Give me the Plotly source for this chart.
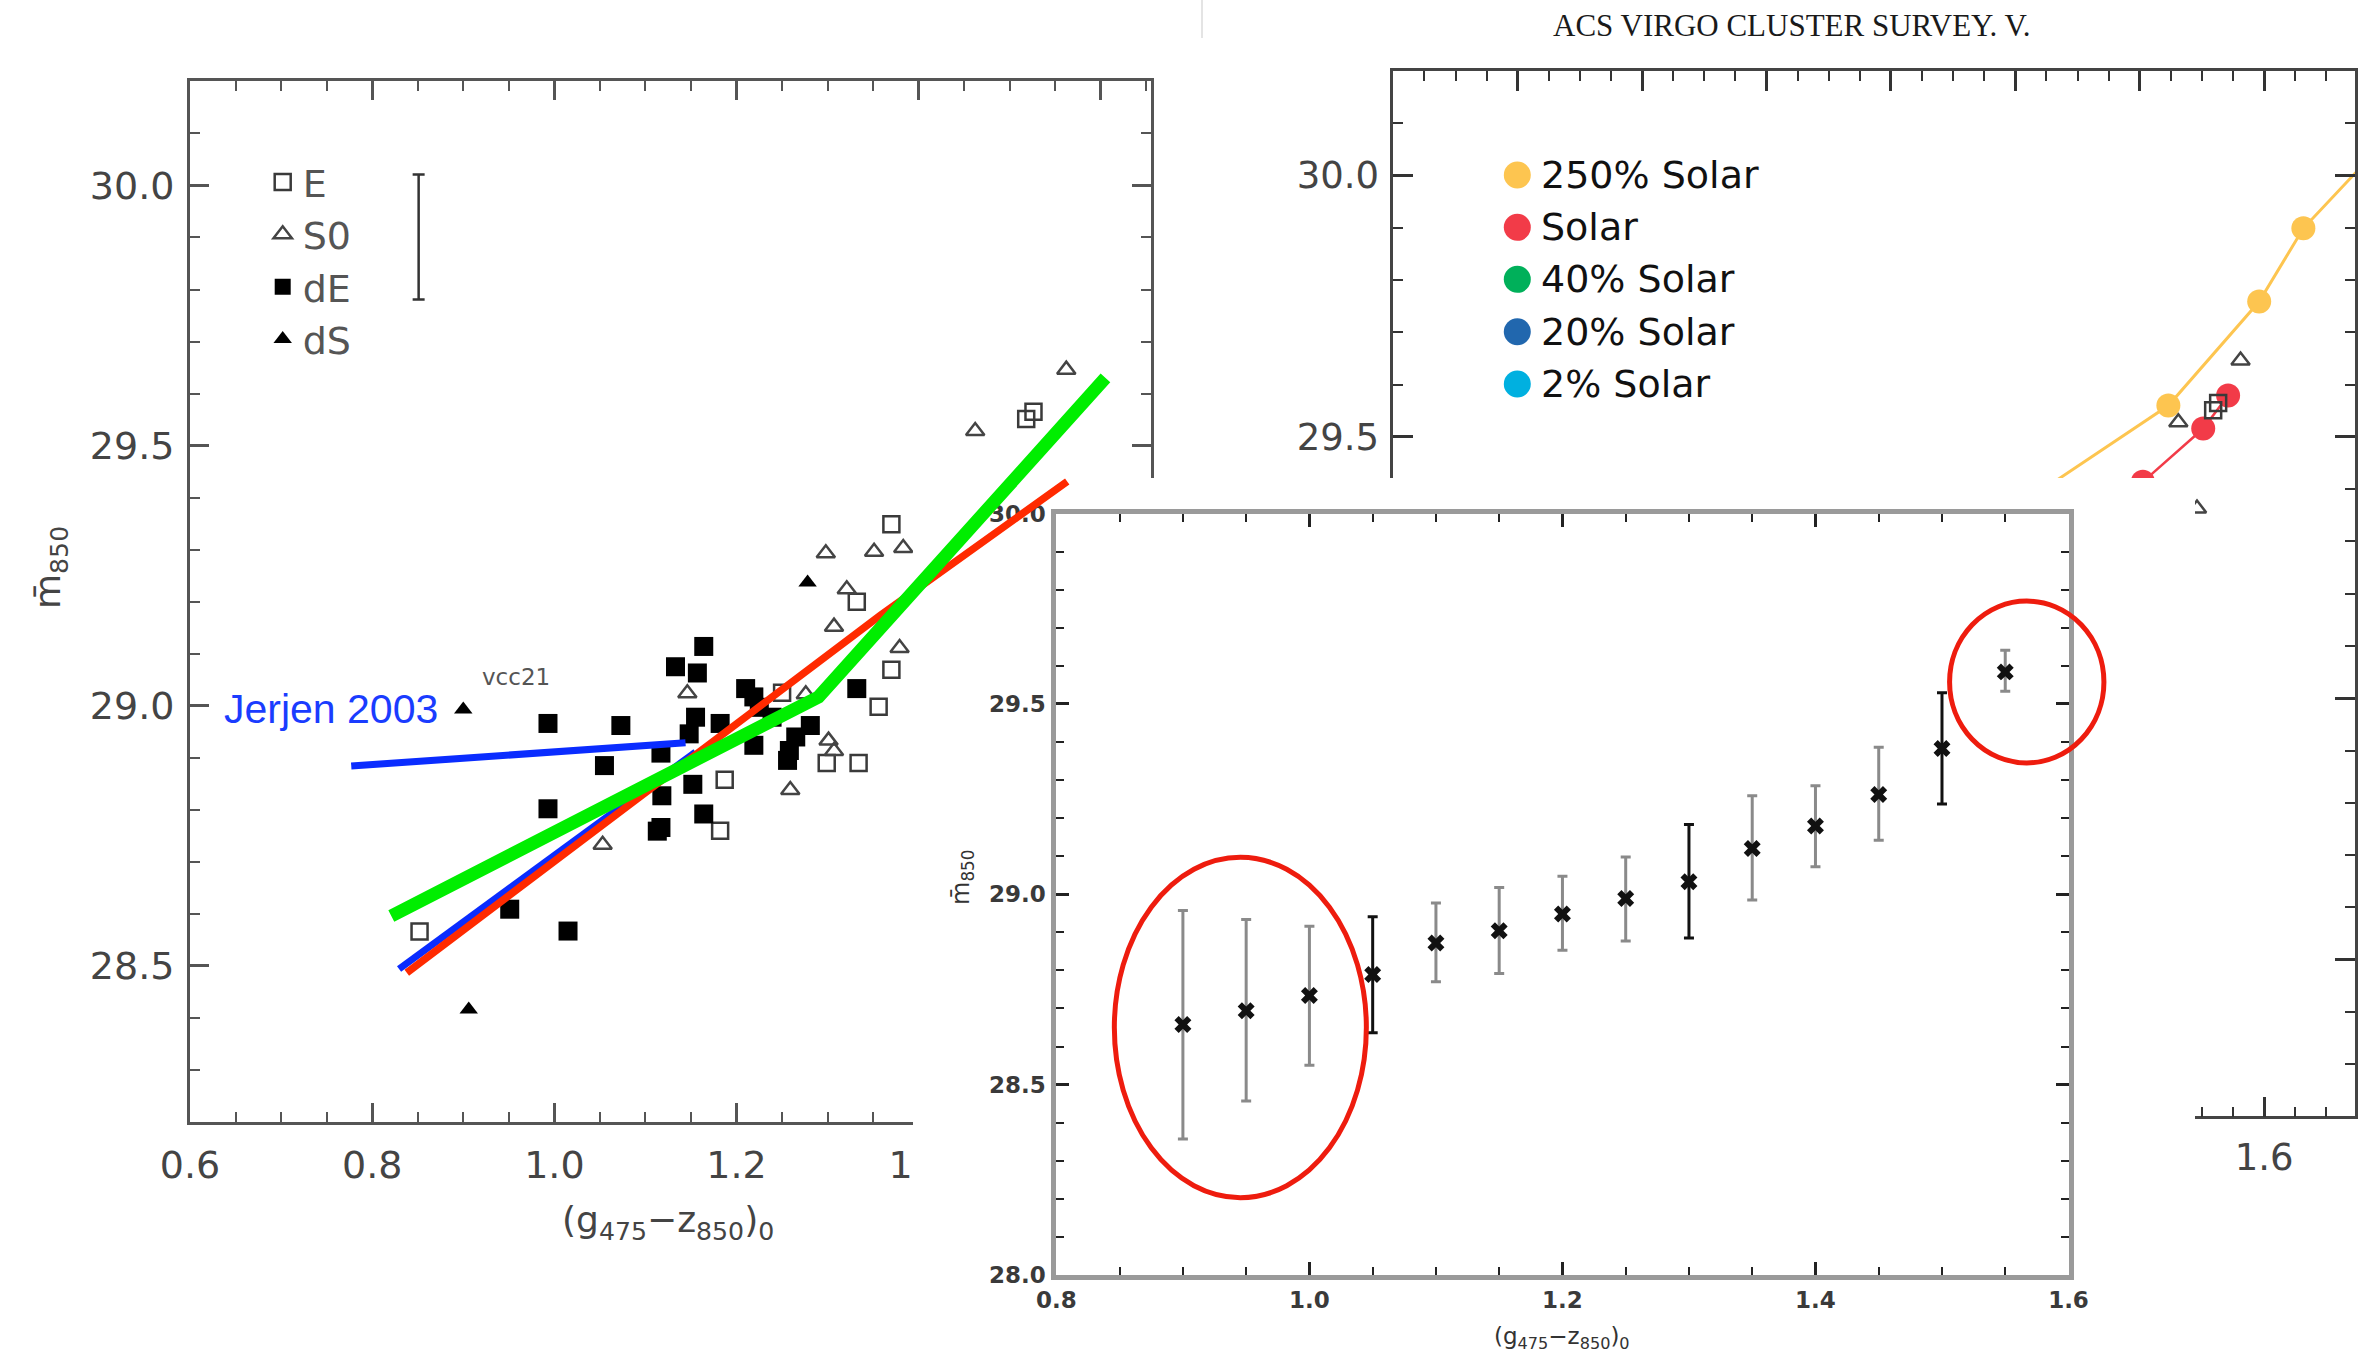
import plotly.graph_objects as go

W, H = 2358, 1360

# ---------------- data: galaxy sample (panels 1 and 2) ----------------
E_x = [0.852, 1.187, 1.182, 1.356, 1.334, 1.299, 1.332, 1.370, 1.370, 1.518, 1.526, 1.250]
E_y = [28.566, 28.858, 28.760, 28.998, 28.890, 28.890, 29.200, 29.349, 29.069, 29.551, 29.565, 29.025]

S0_x = [1.053, 1.146, 1.259, 1.301, 1.307, 1.298, 1.351, 1.383, 1.321, 1.307, 1.379,
        1.462, 1.562, 1.276, 1.492]
S0_y = [28.733, 29.024, 28.838, 28.933, 28.913, 29.293, 29.296, 29.303, 29.224, 29.152, 29.111,
        29.528, 29.646, 29.022, 29.363]

dE_x = [0.993, 1.073, 1.055, 0.993, 0.951, 1.015, 1.133, 1.164, 1.157, 1.155, 1.148, 1.182,
        1.117, 1.152, 1.118, 1.117, 1.113, 1.164, 1.210, 1.219, 1.225, 1.281, 1.265, 1.256,
        1.258, 1.332, 1.219, 1.239]
dE_y = [28.966, 28.962, 28.885, 28.802, 28.609, 28.567, 29.075, 29.114, 29.063, 28.978, 28.946, 28.966,
        28.909, 28.849, 28.827, 28.766, 28.759, 28.792, 29.033, 28.924, 28.997, 28.962, 28.940, 28.895,
        28.914, 29.033, 29.017, 28.978]

dS_x = [0.900, 0.906, 1.278]
dS_y = [28.993, 28.416, 29.237]

# typical error bar shown in panel 1 legend area
errbar_x = [0.851]
errbar_y = [29.901]
errbar_e = [0.120]

# overlay fit lines drawn on panel 1
green_x = [0.821, 1.290, 1.605]
green_y = [28.596, 29.017, 29.630]
red_x = [0.838, 1.358, 1.563]
red_y = [28.487, 29.174, 29.431]
blue1_x = [0.777, 1.144]
blue1_y = [28.884, 28.929]
blue2_x = [0.8295, 1.155]
blue2_y = [28.494, 28.911]

# ---------------- data: model tracks (panel 2) ----------------
Z250_x = [1.22, 1.446, 1.592, 1.663, 1.79]
Z250_y = [29.38, 29.560, 29.759, 29.899, 30.06]
Zsol_x = [1.30, 1.405, 1.502, 1.542]
Zsol_y = [29.32, 29.414, 29.516, 29.579]
legend2_labels = ["250% Solar", "Solar", "40% Solar", "20% Solar", "2% Solar"]
legend2_colors = ["#FDC550", "#F23B48", "#00B05A", "#2167AE", "#00B0E0"]

# ---------------- data: binned relation (panel 3) ----------------
p3_x = [0.90, 0.95, 1.00, 1.05, 1.10, 1.15, 1.20, 1.25, 1.30, 1.35, 1.40, 1.45, 1.50, 1.55]
p3_y = [28.658, 28.694, 28.734, 28.789, 28.872, 28.904, 28.948, 28.989, 29.033, 29.120, 29.179, 29.262, 29.383, 29.584]
p3_hi = [28.957, 28.934, 28.916, 28.941, 28.977, 29.018, 29.047, 29.098, 29.183, 29.259, 29.285, 29.386, 29.529, 29.641]
p3_lo = [28.357, 28.457, 28.551, 28.636, 28.770, 28.792, 28.853, 28.877, 28.885, 28.985, 29.072, 29.142, 29.237, 29.533]
p3_dark = [False, False, False, True, False, False, False, False, True, False, False, False, True, False]

# highlighted regions (panel 3 data units)
ellipses = [
    dict(x0=0.8458, x1=1.045, y0=28.203, y1=29.097),
    dict(x0=1.506, x1=1.628, y0=29.345, y1=29.770),
]

# ---------------- layout geometry (pixels) ----------------
P1 = dict(l=190, r=1151, t=81.4, b=1122)
P2 = dict(l=1393.3, r=2355, t=71, b=1116.4)
CV = dict(l=913, r=2195, t=478, b=1360)
P3 = dict(l=1056.4, r=2068.5, t=513.5, b=1275)

P1_xr = [0.6, 1.655]; P1_yr = [28.2, 30.2]
P2_xr = [0.2, 1.746]; P2_yr = [28.2, 30.2]
P3_xr = [0.8, 1.6];   P3_yr = [28.0, 30.0]


def dom_x(b):
    return [b['l'] / W, b['r'] / W]


def dom_y(b):
    return [1 - b['b'] / H, 1 - b['t'] / H]


def px(x):
    return x / W


def py(y):
    return 1 - y / H


# cover axes use the same scale as panel 3
sx = (P3['r'] - P3['l']) / (P3_xr[1] - P3_xr[0])
sy = (P3['b'] - P3['t']) / (P3_yr[1] - P3_yr[0])
CV_xr = [P3_xr[0] - (P3['l'] - CV['l']) / sx, P3_xr[1] + (CV['r'] - P3['r']) / sx]
CV_yr = [P3_yr[0] - (CV['b'] - P3['b']) / sy, P3_yr[1] + (P3['t'] - CV['t']) / sy]

FONT = "DejaVu Sans"

mk_E = dict(symbol="square-open", size=16, color="#3a3a3a", line=dict(width=2.5, color="#3a3a3a"))
mk_S0 = dict(symbol="triangle-up-open", size=16, color="#444444", line=dict(width=2.5, color="#444444"))
mk_dE = dict(symbol="square", size=19, color="#000000")
mk_dS = dict(symbol="triangle-up", size=16, color="#000000")

fig = go.Figure()

# ---- panel 1 ----
for name, xs, ys, mk in [("E", E_x, E_y, mk_E), ("S0", S0_x, S0_y, mk_S0),
                         ("dE", dE_x, dE_y, mk_dE), ("dS", dS_x, dS_y, mk_dS)]:
    fig.add_trace(go.Scatter(x=xs, y=ys, mode="markers", name=name, marker=mk,
                             xaxis="x", yaxis="y", showlegend=True))
fig.add_trace(go.Scatter(x=errbar_x, y=errbar_y, mode="markers", marker=dict(size=1, color="rgba(0,0,0,0)"),
                         error_y=dict(type="data", array=errbar_e, color="#333333", thickness=2.5, width=6),
                         xaxis="x", yaxis="y", showlegend=False))

# ---- panel 2 ----
fig.add_trace(go.Scatter(x=Z250_x, y=Z250_y, mode="lines+markers", name=legend2_labels[0],
                         line=dict(color=legend2_colors[0], width=3),
                         marker=dict(size=24, color=legend2_colors[0]),
                         xaxis="x2", yaxis="y2", showlegend=False))
fig.add_trace(go.Scatter(x=Zsol_x, y=Zsol_y, mode="lines+markers", name=legend2_labels[1],
                         line=dict(color=legend2_colors[1], width=2.5),
                         marker=dict(size=24, color=legend2_colors[1]),
                         xaxis="x2", yaxis="y2", showlegend=False))
for name, xs, ys, mk in [("E", E_x, E_y, mk_E), ("S0", S0_x, S0_y, mk_S0),
                         ("dE", dE_x, dE_y, mk_dE), ("dS", dS_x, dS_y, mk_dS)]:
    fig.add_trace(go.Scatter(x=xs, y=ys, mode="markers", name=name, marker=mk,
                             xaxis="x2", yaxis="y2", showlegend=False))

# ---- white cover behind panel 3 ----
fig.add_trace(go.Scatter(x=[CV_xr[0], CV_xr[1], CV_xr[1], CV_xr[0], CV_xr[0]],
                         y=[CV_yr[0], CV_yr[0], CV_yr[1], CV_yr[1], CV_yr[0]],
                         mode="lines", fill="toself", fillcolor="#ffffff", line=dict(width=0, color="#ffffff"),
                         xaxis="x3", yaxis="y3", showlegend=False, hoverinfo="skip"))

# ---- panel 3 ----
for dark, col in [(False, "#8a8a8a"), (True, "#111111")]:
    xs = [x for x, d in zip(p3_x, p3_dark) if d == dark]
    ys = [y for y, d in zip(p3_y, p3_dark) if d == dark]
    ep = [h - y for h, y, d in zip(p3_hi, p3_y, p3_dark) if d == dark]
    em = [y - l for l, y, d in zip(p3_lo, p3_y, p3_dark) if d == dark]
    fig.add_trace(go.Scatter(x=xs, y=ys, mode="markers",
                             marker=dict(symbol="x", size=15, color="#111111"),
                             error_y=dict(type="data", symmetric=False, array=ep, arrayminus=em,
                                          color=col, thickness=3, width=5),
                             xaxis="x4", yaxis="y4", showlegend=False))

# ---- overlay lines on panel 1 ----
fig.add_trace(go.Scatter(x=blue1_x, y=blue1_y, mode="lines", line=dict(color="#0a2cff", width=7),
                         xaxis="x5", yaxis="y5", showlegend=False))
fig.add_trace(go.Scatter(x=blue2_x, y=blue2_y, mode="lines", line=dict(color="#0a2cff", width=7),
                         xaxis="x5", yaxis="y5", showlegend=False))
fig.add_trace(go.Scatter(x=red_x, y=red_y, mode="lines", line=dict(color="#ff2a00", width=7.5),
                         xaxis="x5", yaxis="y5", showlegend=False))
fig.add_trace(go.Scatter(x=green_x, y=green_y, mode="lines", line=dict(color="#00ee00", width=13),
                         xaxis="x5", yaxis="y5", showlegend=False))


def axis_style(dom, rng, anchor, dtick, tick0, minor_dtick, font_size, font_color, line_color,
               line_width, tick_color, ticklen, minorlen, standoff, weight="normal"):
    return dict(domain=dom, range=rng, anchor=anchor, showline=True, linecolor=line_color,
                linewidth=line_width, mirror="ticks", ticks="inside", ticklen=ticklen, tickwidth=2.5,
                tickcolor=tick_color, dtick=dtick, tick0=tick0, tickformat=".1f",
                minor=dict(dtick=minor_dtick, ticks="inside", ticklen=minorlen, tickwidth=2,
                           tickcolor=tick_color),
                tickfont=dict(family=FONT, size=font_size, color=font_color, weight=weight),
                showgrid=False, zeroline=False, ticklabelstandoff=standoff, fixedrange=True)


layout = dict(
    width=W, height=H, margin=dict(l=0, r=0, t=0, b=0, autoexpand=False),
    paper_bgcolor="#ffffff", plot_bgcolor="rgba(0,0,0,0)", hovermode=False,
    xaxis=axis_style(dom_x(P1), P1_xr, "y", 0.2, 0.6, 0.05, 38, "#444444", "#555555", 3, "#555555", 19, 10, 7),
    yaxis=axis_style(dom_y(P1), P1_yr, "x", 0.5, 28.5, 0.1, 38, "#444444", "#555555", 3, "#555555", 19, 10, 5),
    xaxis2=axis_style(dom_x(P2), P2_xr, "y2", 0.2, 0.2, 0.05, 37, "#444444", "#444444", 2.5, "#333333", 20, 10, 6),
    yaxis2=axis_style(dom_y(P2), P2_yr, "x2", 0.5, 28.5, 0.1, 37, "#444444", "#444444", 2.5, "#333333", 20, 10, 4),
    xaxis3=dict(domain=dom_x(CV), range=CV_xr, anchor="y3", visible=False, fixedrange=True),
    yaxis3=dict(domain=dom_y(CV), range=CV_yr, anchor="x3", visible=False, fixedrange=True),
    xaxis4=axis_style(dom_x(P3), P3_xr, "y4", 0.2, 0.8, 0.05, 23, "#3a3a3a", "#9a9a9a", 5, "#222222", 13, 8, 0,
                      weight="bold"),
    yaxis4=axis_style(dom_y(P3), P3_yr, "x4", 0.5, 28.0, 0.1, 23, "#3a3a3a", "#9a9a9a", 5, "#222222", 13, 8, 1,
                      weight="bold"),
    xaxis5=dict(domain=dom_x(P1), range=P1_xr, anchor="y5", visible=False, fixedrange=True),
    yaxis5=dict(domain=dom_y(P1), range=P1_yr, anchor="x5", visible=False, fixedrange=True),
    legend=dict(x=px(282.7 - 20), y=py(186.7 - 36), xanchor="left", yanchor="top",
                bgcolor="rgba(0,0,0,0)", borderwidth=0, tracegroupgap=0,
                font=dict(family=FONT, size=38, color="#555555")),
)
fig.update_layout(**layout)

ann = []
ann.append(dict(text="ACS VIRGO CLUSTER SURVEY. V.", x=px(1792), y=py(25), xref="paper", yref="paper",
                showarrow=False, xanchor="center", yanchor="middle",
                font=dict(family="Liberation Serif", size=31, color="#1a1a1a")))
ann.append(dict(text="(g<sub>475</sub>\u2212z<sub>850</sub>)<sub>0</sub>", x=px(668), y=py(1222),
                xref="paper", yref="paper", showarrow=False, xanchor="center", yanchor="middle",
                font=dict(family=FONT, size=36, color="#444444")))
ann.append(dict(text="m\u0304<sub>850</sub>", x=px(50), y=py(568), xref="paper", yref="paper",
                showarrow=False, textangle=-90, xanchor="center", yanchor="middle",
                font=dict(family=FONT, size=36, color="#444444")))
ann.append(dict(text="(g<sub>475</sub>\u2212z<sub>850</sub>)<sub>0</sub>", x=px(1562), y=py(1338),
                xref="paper", yref="paper", showarrow=False, xanchor="center", yanchor="middle",
                font=dict(family=FONT, size=23, color="#333333")))
ann.append(dict(text="m\u0304<sub>850</sub>", x=px(962), y=py(878), xref="paper", yref="paper",
                showarrow=False, textangle=-90, xanchor="center", yanchor="middle",
                font=dict(family=FONT, size=24, color="#333333")))
ann.append(dict(text="Jerjen 2003", x=0.635, y=28.993, xref="x", yref="y", showarrow=False,
                xanchor="left", yanchor="middle",
                font=dict(family="Liberation Sans", size=41, color="#1a3cff")))
ann.append(dict(text="vcc21", x=0.958, y=29.055, xref="x", yref="y", showarrow=False,
                xanchor="center", yanchor="middle",
                font=dict(family=FONT, size=23, color="#555555")))

shapes = []
row_y = [175, 227.3, 279.3, 331.7, 384]
for lab, col, ry in zip(legend2_labels, legend2_colors, row_y):
    ann.append(dict(text=lab, x=px(1539), y=py(ry), xref="paper", yref="paper", showarrow=False,
                    xanchor="left", yanchor="middle",
                    font=dict(family=FONT, size=38, color="#111111")))
    r = 13.5
    shapes.append(dict(type="circle", xref="paper", yref="paper", x0=px(1517.3 - r), x1=px(1517.3 + r),
                       y0=py(ry + r), y1=py(ry - r), fillcolor=col, line=dict(width=0), layer="above"))

for e in ellipses:
    shapes.append(dict(type="circle", xref="x3", yref="y3", x0=e["x0"], x1=e["x1"], y0=e["y0"], y1=e["y1"],
                       line=dict(color="#ee1c0e", width=5), fillcolor="rgba(0,0,0,0)", layer="above"))

shapes.append(dict(type="line", xref="paper", yref="paper", x0=px(1202), x1=px(1202), y0=py(0), y1=py(38),
                   line=dict(color="#e4e4e4", width=2), layer="above"))

fig.update_layout(annotations=ann, shapes=shapes)
fig.write_html("out.html")
